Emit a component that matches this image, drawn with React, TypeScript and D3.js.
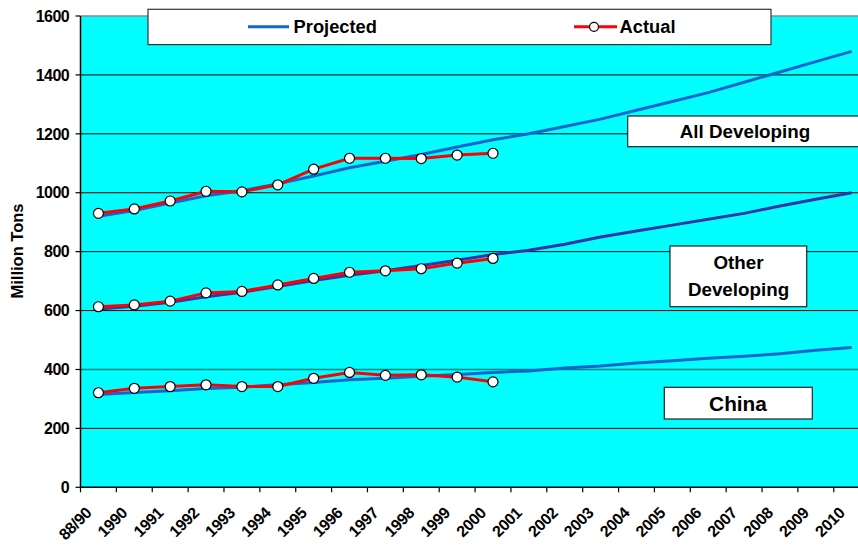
import React from "react";
import * as d3 from "d3";

const categories = ["88/90","1990","1991","1992","1993","1994","1995","1996","1997","1998","1999","2000","2001","2002","2003","2004","2005","2006","2007","2008","2009","2010"];
const yTicks = [0, 200, 400, 600, 800, 1000, 1200, 1400, 1600];

const allDevProjected = [920, 940, 965, 990, 1007, 1030, 1057, 1085, 1107, 1130, 1155, 1180, 1200, 1225, 1250, 1280, 1310, 1340, 1375, 1410, 1445, 1480];
const allDevActual = [930, 945, 972, 1005, 1003, 1027, 1080, 1117, 1117, 1116, 1128, 1134];
const otherProjected = [605, 615, 628, 647, 662, 682, 702, 720, 735, 753, 771, 790, 805, 825, 850, 870, 890, 910, 930, 955, 978, 1000];
const otherActual = [613, 619, 632, 660, 665, 687, 709, 730, 735, 742, 761, 777];
const chinaProjected = [315, 322, 328, 335, 340, 348, 356, 365, 370, 377, 383, 390, 395, 405, 412, 422, 430, 438, 445, 453, 465, 475];
const chinaActual = [321, 336, 342, 348, 342, 342, 370, 390, 380, 382, 374, 358];

const W = 858, H = 545;
const left = 80.5, top = 16, bottom = 487.3;
const band = 35.87;

export default function App() {
  const x = d3.scaleBand<string>().domain(categories).range([left, left + band * categories.length]);
  const cx = (c: string) => (x(c) as number) + x.bandwidth() / 2;
  const y = d3.scaleLinear().domain([0, 1600]).range([bottom, top]);
  const line = d3.line<number>().x((_, i) => cx(categories[i])).y(v => y(v));
  const right = W;
  const font = "'Liberation Sans', Arial, sans-serif";

  const projected = [
    { v: allDevProjected, c: "#1565d0" },
    { v: otherProjected, c: "#3535a8" },
    { v: chinaProjected, c: "#1565d0" },
  ];
  const actual = [allDevActual, otherActual, chinaActual];

  return (
    <div style={{ position: "absolute", left: 0, top: 0 }}>
      <svg width={W} height={H} style={{ display: "block", fontFamily: font }}>
        <rect x={0} y={0} width={W} height={H} fill="#fff" />
        <rect x={left} y={top} width={right - left} height={bottom - top} fill="#00ffff" />
        <line x1={left} x2={right} y1={top} y2={top} stroke="#888" strokeWidth={1.5} />
        {yTicks.filter(t => t > 0 && t < 1600).map(t => (
          <line key={t} x1={left} x2={right} y1={y(t)} y2={y(t)} stroke={t === 400 ? "#0a7a7a" : "#000"} strokeWidth={t === 400 ? 1.6 : 1} />
        ))}
        {/* axes */}
        <line x1={left} x2={left} y1={top} y2={bottom} stroke="#000" strokeWidth={1.5} />
        <line x1={left} x2={right} y1={bottom} y2={bottom} stroke="#000" strokeWidth={1.5} />
        {yTicks.map(t => (
          <g key={t}>
            <line x1={left - 5} x2={left} y1={y(t)} y2={y(t)} stroke="#000" strokeWidth={1.2} />
            <text x={69} y={y(t)} dy="0.36em" textAnchor="end" fontSize={16} fontWeight="bold" letterSpacing={-0.6}>{t}</text>
          </g>
        ))}
        {categories.map(c => (
          <line key={c} x1={x(c) as number} x2={x(c) as number} y1={bottom} y2={bottom + 5} stroke="#000" strokeWidth={1.2} />
        ))}
        {categories.map(c => (
          <text key={c} transform={`translate(${cx(c) - 6},${514}) rotate(-45)`} textAnchor="end" fontSize={16} fontWeight="bold" letterSpacing={-0.4}>{c}</text>
        ))}
        <text transform={`translate(23,251) rotate(-90)`} textAnchor="middle" fontSize={16.5} fontWeight="bold">Million Tons</text>

        {/* labels */}
        <rect x={627.7} y={116} width={240} height={30.7} fill="#fff" stroke="#222" strokeWidth={1.2} />
        <text x={745} y={131.5} dy="0.36em" textAnchor="middle" fontSize={18.8} fontWeight="bold">All Developing</text>
        <rect x={670} y={246} width={136.7} height={60.7} fill="#fff" stroke="#222" strokeWidth={1.2} />
        <text x={738.5} y={262.5} dy="0.36em" textAnchor="middle" fontSize={18.8} fontWeight="bold">Other</text>
        <text x={738.5} y={289.5} dy="0.36em" textAnchor="middle" fontSize={18.8} fontWeight="bold">Developing</text>
        <rect x={664.3} y={387.3} width={148} height={31.7} fill="#fff" stroke="#222" strokeWidth={1.2} />
        <text x={738} y={403.5} dy="0.36em" textAnchor="middle" fontSize={20.8} fontWeight="bold">China</text>

        {/* series */}
        {projected.map((p, i) => (
          <path key={i} d={line(p.v) as string} fill="none" stroke={p.c} strokeWidth={3} />
        ))}
        {actual.map((a, i) => (
          <g key={i}>
            <path d={line(a) as string} fill="none" stroke="#ff0000" strokeWidth={3} />
            {a.map((v, j) => (
              <circle key={j} cx={cx(categories[j])} cy={y(v)} r={5} fill="#fff" stroke="#000" strokeWidth={1.2} />
            ))}
          </g>
        ))}

        {/* legend */}
        <rect x={148} y={9.3} width={623} height={35.3} fill="#fff" stroke="#333" strokeWidth={1.2} />
        <line x1={248} x2={289} y1={26.8} y2={26.8} stroke="#1565d0" strokeWidth={3} />
        <text x={293.6} y={26.8} dy="0.36em" fontSize={18.3} fontWeight="bold">Projected</text>
        <line x1={574} x2={617} y1={26.8} y2={26.8} stroke="#ff0000" strokeWidth={3} />
        <circle cx={594} cy={26.8} r={4.5} fill="#fff" stroke="#000" strokeWidth={1.2} />
        <text x={619.6} y={26.8} dy="0.36em" fontSize={18.3} fontWeight="bold">Actual</text>
      </svg>
    </div>
  );
}
